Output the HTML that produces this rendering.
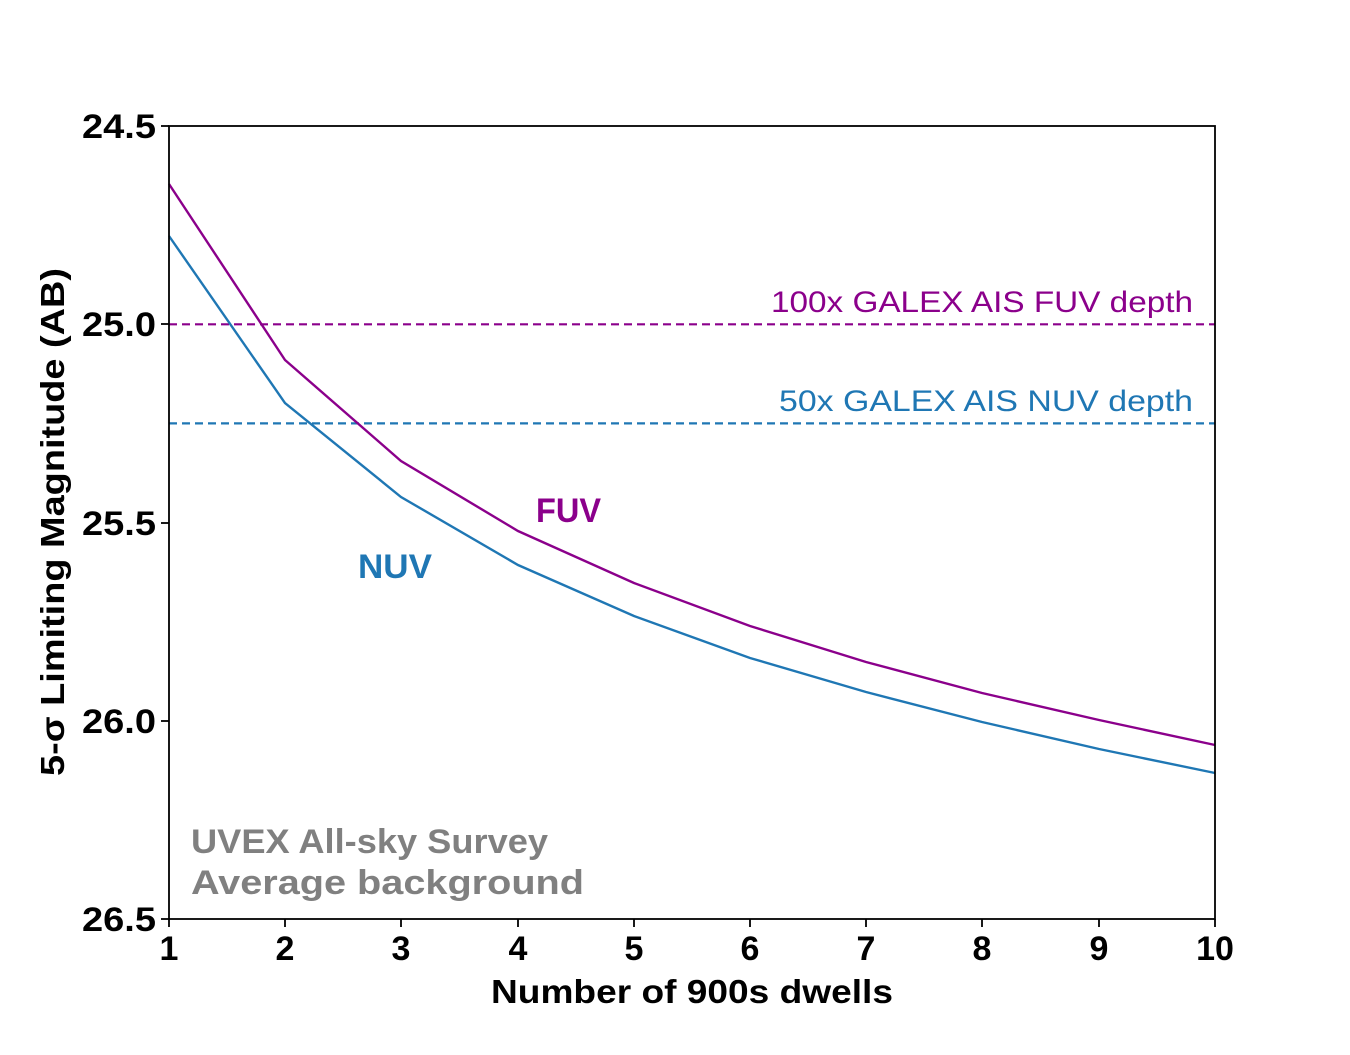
<!DOCTYPE html>
<html><head><meta charset="utf-8"><style>body{margin:0;background:#fff}</style></head><body>
<svg width="1350" height="1050" xmlns="http://www.w3.org/2000/svg" font-family="Liberation Sans, sans-serif">
<rect width="1350" height="1050" fill="#fff"/>
<line x1="169" y1="324.3" x2="1215" y2="324.3" stroke="#8b008b" stroke-width="2.2" stroke-dasharray="8,5"/>
<line x1="169" y1="423.4" x2="1215" y2="423.4" stroke="#1f77b4" stroke-width="2.2" stroke-dasharray="8,5"/>
<polyline fill="none" stroke="#8b008b" stroke-width="2.4" points="169,184 285,360 401,461 518,531 634,583 750,626 866,662 982,693 1099,720 1215,745"/>
<polyline fill="none" stroke="#1f77b4" stroke-width="2.4" points="169,236 285,403 401,497 518,565 634,616 750,658 866,692 982,722 1099,749 1215,773"/>
<rect x="169" y="126" width="1046" height="793" fill="none" stroke="#000" stroke-width="1.8"/>
<g stroke="#000" stroke-width="1.8">
<line x1="169" y1="919" x2="169" y2="927"/><line x1="285" y1="919" x2="285" y2="927"/><line x1="401" y1="919" x2="401" y2="927"/><line x1="518" y1="919" x2="518" y2="927"/><line x1="634" y1="919" x2="634" y2="927"/><line x1="750" y1="919" x2="750" y2="927"/><line x1="866" y1="919" x2="866" y2="927"/><line x1="982" y1="919" x2="982" y2="927"/><line x1="1099" y1="919" x2="1099" y2="927"/><line x1="1215" y1="919" x2="1215" y2="927"/>
<line x1="161" y1="126" x2="169" y2="126"/><line x1="161" y1="324" x2="169" y2="324"/><line x1="161" y1="523" x2="169" y2="523"/><line x1="161" y1="721" x2="169" y2="721"/><line x1="161" y1="919" x2="169" y2="919"/>
</g>
<g font-size="34" font-weight="bold" fill="#000" text-anchor="middle">
<text x="169" y="960">1</text><text x="285" y="960">2</text><text x="401" y="960">3</text><text x="518" y="960">4</text><text x="634" y="960">5</text><text x="750" y="960">6</text><text x="866" y="960">7</text><text x="982" y="960">8</text><text x="1099" y="960">9</text><text x="1215" y="960">10</text>
</g>
<g font-size="34" font-weight="bold" fill="#000">
<text x="82" y="138" textLength="74" lengthAdjust="spacingAndGlyphs">24.5</text><text x="82" y="336" textLength="74" lengthAdjust="spacingAndGlyphs">25.0</text><text x="82" y="535" textLength="74" lengthAdjust="spacingAndGlyphs">25.5</text><text x="82" y="733" textLength="74" lengthAdjust="spacingAndGlyphs">26.0</text><text x="82" y="931" textLength="74" lengthAdjust="spacingAndGlyphs">26.5</text>
</g>
<text x="491" y="1003" font-size="33" font-weight="bold" textLength="402" lengthAdjust="spacingAndGlyphs">Number of 900s dwells</text>
<text transform="translate(64,776) rotate(-90)" font-size="33" font-weight="bold" textLength="508" lengthAdjust="spacingAndGlyphs">5-σ Limiting Magnitude (AB)</text>
<text x="771" y="312" font-size="30" fill="#8b008b" textLength="422" lengthAdjust="spacingAndGlyphs">100x GALEX AIS FUV depth</text>
<text x="779" y="411" font-size="30" fill="#1f77b4" textLength="414" lengthAdjust="spacingAndGlyphs">50x GALEX AIS NUV depth</text>
<text x="536" y="522" font-size="34" font-weight="bold" fill="#8b008b" textLength="65" lengthAdjust="spacingAndGlyphs">FUV</text>
<text x="358" y="578" font-size="34" font-weight="bold" fill="#1f77b4" textLength="74" lengthAdjust="spacingAndGlyphs">NUV</text>
<text x="191" y="853" font-size="34" font-weight="bold" fill="#808080" textLength="357" lengthAdjust="spacingAndGlyphs">UVEX All-sky Survey</text>
<text x="191" y="894" font-size="34" font-weight="bold" fill="#808080" textLength="393" lengthAdjust="spacingAndGlyphs">Average background</text>
</svg>
</body></html>
